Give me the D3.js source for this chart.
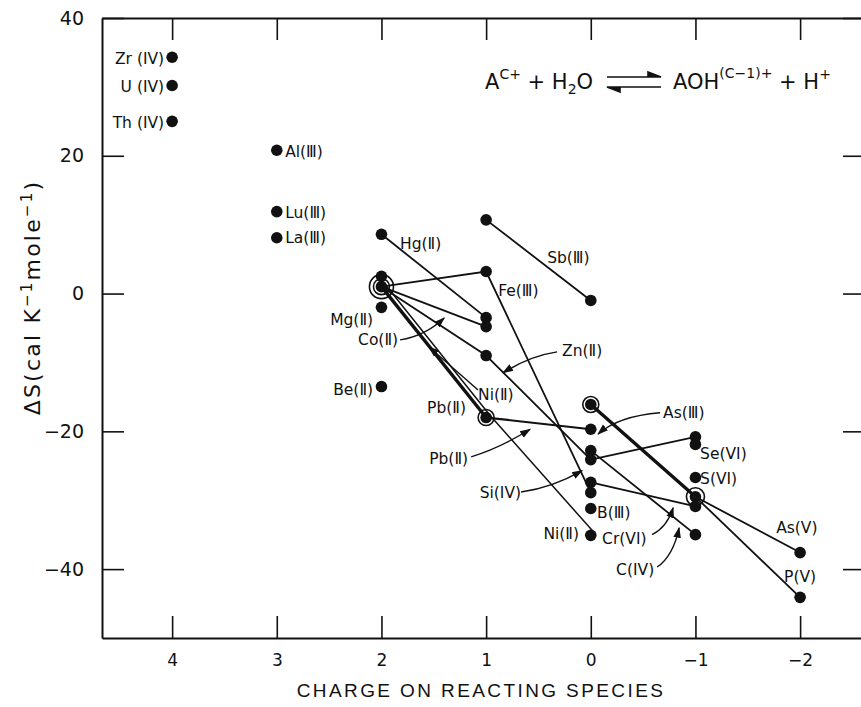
<!DOCTYPE html>
<html>
<head>
<meta charset="utf-8">
<script src="https://cdn.jsdelivr.net/npm/d3@7"></script>
<style>
  body { margin: 0; background: #fff; }
  text { font-family: "DejaVu Sans", sans-serif; fill: #111; }
  .axis path, .axis line { stroke: #111; }
  .axis path { stroke-width: 2; }
  .axis line { stroke-width: 1.6; }
</style>
</head>
<body>
<script>
// x = charge on reacting species, y = entropy of hydrolysis
var xTicks = [4, 3, 2, 1, 0, -1, -2];
var yTicks = [-40, -20, 0, 20, 40];

// lone points [charge, dS]
var dots = [
  [4, 34.3], [4, 30.2], [4, 25.0],
  [3, 20.8], [3, 11.9], [3, 8.1],
  [2, 8.6], [2, 2.5], [2, 1.0], [2, -2.0], [2, -13.5],
  [1, 10.7], [1, 3.2], [1, -3.5], [1, -4.8], [1, -9.0], [1, -18.0],
  [0, -1.0], [0, -16.1], [0, -19.7], [0, -22.8], [0, -24.1], [0, -27.4], [0, -28.9], [0, -31.2], [0, -35.1],
  [-1, -20.8], [-1, -21.9], [-1, -26.7], [-1, -29.5], [-1, -30.9], [-1, -35.0],
  [-2, -37.6], [-2, -44.1]
];

// circled (overlapping) points
var rings = [[2, 1.0, 12], [2, 1.0, 8], [1, -18.0, 8], [0, -16.1, 8], [-1, -29.5, 9]];

// connected hydrolysis steps
var hg = [[2, 8.6], [1, -3.5]];
var sb = [[1, 10.7], [0, -1.0]];
var fe = [[2, 1.0], [1, 3.2], [0, -28.9]];
var co = [[2, 1.0], [1, -4.8]];
var zn = [[2, 1.0], [1, -9.0], [0, -24.1]];
var pb = [[2, 1.0], [1, -18.0], [0, -19.7]];
var ni = [[2, 1.0], [1, -18.0], [0, -35.1]];
var as3 = [[0, -16.1], [-1, -29.5]];
var se = [[0, -24.1], [-1, -20.8]];
var c4 = [[0, -22.8], [-1, -35.0]];
var cr = [[0, -27.4], [-1, -30.9]];
var as5 = [[-1, -29.5], [-2, -37.6]];
var p5 = [[-1, -29.5], [-2, -44.1]];

// labels [text, charge, dS, anchor]
var labels = [
  ["Zr (IV)", 4.076, 34.1, "end"], ["U (IV)", 4.076, 30.1, "end"], ["Th (IV)", 4.076, 24.9, "end"],
  ["Al(\u2162)", 2.92, 20.7, "start"], ["Lu(\u2162)", 2.92, 11.8, "start"], ["La(\u2162)", 2.92, 8.1, "start"],
  ["Hg(\u2161)", 1.822, 7.3, "start"], ["Sb(\u2162)", 0.417, 5.3, "start"], ["Fe(\u2162)", 0.885, 0.5, "start"],
  ["Mg(\u2161)", 2.08, -3.8, "end"], ["Co(\u2161)", 1.841, -6.7, "end"], ["Zn(\u2161)", 0.274, -8.2, "start"],
  ["Be(\u2161)", 2.08, -13.9, "end"], ["Ni(\u2161)", 1.077, -14.7, "start"], ["Pb(\u2161)", 1.192, -16.5, "end"],
  ["Pb(\u2161)", 1.172, -24.0, "end"], ["As(\u2162)", -0.691, -17.2, "start"], ["Se(VI)", -1.044, -23.2, "start"],
  ["S(VI)", -1.044, -26.9, "start"], ["B(\u2162)", -0.06, -31.7, "start"], ["Ni(\u2161)", 0.112, -34.8, "end"],
  ["Cr(VI)", -0.108, -35.6, "start"], ["C(IV)", -0.242, -40.0, "start"], ["Si(IV)", 0.666, -28.8, "end"],
  ["As(V)", -1.771, -33.9, "start"], ["P(V)", -1.847, -41.0, "start"]
];

// leader arrows [start, control, end]
var leaders = [
  [[1.822, -6.72], [1.583, -6.15], [1.401, -3.54]],
  [[1.077, -14.0], [1.31, -10.9], [1.545, -7.75]],
  [[0.322, -8.47], [0.58, -9.06], [0.838, -11.5]],
  [[1.143, -23.7], [0.866, -22.4], [0.58, -19.7]],
  [[-0.662, -17.3], [-0.261, -17.8], [-0.07, -20.4]],
  [[0.666, -28.8], [0.37, -28.2], [0.083, -25.7]],
  [[-0.586, -35.0], [-0.729, -33.9], [-0.787, -31.1]],
  [[-0.634, -39.7], [-0.787, -38.1], [-0.844, -34.0]]
];

var width = 861, height = 707;
var margin = { top: 18, right: -4, bottom: 69, left: 102 };

var svg = d3.select("body").append("svg")
  .attr("width", width)
  .attr("height", height);

var x = d3.scaleLinear()
  .domain([4.67, -2.62])
  .range([margin.left, width - margin.right]);

var y = d3.scaleLinear()
  .domain([-50, 40])
  .range([height - margin.bottom, margin.top]);

svg.append("defs").append("marker")
  .attr("id", "head")
  .attr("viewBox", "0 0 10 10")
  .attr("refX", 9).attr("refY", 5)
  .attr("markerWidth", 11).attr("markerHeight", 11)
  .attr("markerUnits", "userSpaceOnUse")
  .attr("orient", "auto")
  .append("path")
  .attr("d", "M0,1.5 L10,5 L0,8.5 Z")
  .attr("fill", "#111");

// frame with inward ticks
svg.append("g").attr("class", "axis")
  .attr("transform", "translate(0," + y(-50) + ")")
  .call(d3.axisBottom(x).tickValues(xTicks).tickSize(-22).tickSizeOuter(0).tickPadding(16)
    .tickFormat(d3.format("d")))
  .selectAll("text").style("font-size", "17px");

svg.append("g").attr("class", "axis")
  .attr("transform", "translate(0," + y(40) + ")")
  .call(d3.axisTop(x).tickValues(xTicks).tickSize(-22).tickSizeOuter(0).tickFormat(""));

svg.append("g").attr("class", "axis")
  .attr("transform", "translate(" + x(4.67) + ",0)")
  .call(d3.axisLeft(y).tickValues(yTicks).tickSize(-22).tickSizeOuter(0).tickPadding(18))
  .selectAll("text").style("font-size", "19px");

svg.append("g").attr("class", "axis")
  .attr("transform", "translate(" + x(-2.62) + ",0)")
  .call(d3.axisRight(y).tickValues(yTicks).tickSize(-22).tickSizeOuter(0).tickFormat(""));

svg.selectAll(".axis text").attr("fill", "#111").style("font-family", "DejaVu Sans");

svg.append("text")
  .attr("x", 481).attr("y", 697)
  .attr("text-anchor", "middle")
  .style("font-family", "Liberation Sans")
  .style("font-size", "19px")
  .style("letter-spacing", "2.4px")
  .text("CHARGE ON REACTING SPECIES");

var yl = svg.append("text")
  .attr("transform", "translate(40," + (y(0) + 4) + ") rotate(-90)")
  .attr("text-anchor", "middle")
  .style("font-size", "22px")
  .style("letter-spacing", "2.2px");
yl.append("tspan").text("\u0394S(cal K");
yl.append("tspan").attr("dy", -8).style("font-size", "15px").text("\u22121");
yl.append("tspan").attr("dy", 8).text("mole");
yl.append("tspan").attr("dy", -8).style("font-size", "15px").text("\u22121");
yl.append("tspan").attr("dy", 8).text(")");

// lines
var line = d3.line().x(function (d) { return x(d[0]); }).y(function (d) { return y(d[1]); });

var thin = [hg, sb, fe, co, zn, se, c4, cr, as5, p5];
svg.selectAll(".thin").data(thin).enter().append("path")
  .attr("class", "thin")
  .attr("d", line)
  .attr("fill", "none").attr("stroke", "#111").attr("stroke-width", 1.8);

svg.append("path").attr("d", line(ni))
  .attr("transform", "translate(4,-2)")
  .attr("fill", "none").attr("stroke", "#111").attr("stroke-width", 1.5);

svg.append("path").attr("d", line(pb.slice(0, 2)))
  .attr("fill", "none").attr("stroke", "#111").attr("stroke-width", 3.4);
svg.append("path").attr("d", line(pb.slice(1)))
  .attr("fill", "none").attr("stroke", "#111").attr("stroke-width", 2.2);
svg.append("path").attr("d", line(as3))
  .attr("fill", "none").attr("stroke", "#111").attr("stroke-width", 3.4);

// rings and dots
svg.selectAll(".ring").data(rings).enter().append("circle")
  .attr("class", "ring")
  .attr("cx", function (d) { return x(d[0]); })
  .attr("cy", function (d) { return y(d[1]); })
  .attr("r", function (d) { return d[2]; })
  .attr("fill", "none").attr("stroke", "#111").attr("stroke-width", 1.6);

svg.selectAll(".dot").data(dots).enter().append("circle")
  .attr("class", "dot")
  .attr("cx", function (d) { return x(d[0]); })
  .attr("cy", function (d) { return y(d[1]); })
  .attr("r", 5.8)
  .attr("fill", "#111");

// leader arrows
svg.selectAll(".leader").data(leaders).enter().append("path")
  .attr("class", "leader")
  .attr("d", function (d) {
    return "M" + x(d[0][0]) + "," + y(d[0][1]) +
      " Q" + x(d[1][0]) + "," + y(d[1][1]) + " " + x(d[2][0]) + "," + y(d[2][1]);
  })
  .attr("fill", "none").attr("stroke", "#111").attr("stroke-width", 1.4)
  .attr("marker-end", "url(#head)");

// labels
svg.selectAll(".lab").data(labels).enter().append("text")
  .attr("class", "lab")
  .attr("x", function (d) { return x(d[1]); })
  .attr("y", function (d) { return y(d[2]); })
  .attr("dy", "0.36em")
  .attr("text-anchor", function (d) { return d[3]; })
  .style("font-size", "15.5px")
  .text(function (d) { return d[0]; });

// reaction
var eq = svg.append("text").attr("x", 485).attr("y", 89).style("font-size", "21px");
eq.append("tspan").text("A");
eq.append("tspan").attr("dy", -10).style("font-size", "14px").text("C+");
eq.append("tspan").attr("dy", 10).text(" + H");
eq.append("tspan").attr("dy", 5).style("font-size", "14px").text("2");
eq.append("tspan").attr("dy", -5).text("O");

var eq2 = svg.append("text").attr("x", 673).attr("y", 89).style("font-size", "21px");
eq2.append("tspan").text("AOH");
eq2.append("tspan").attr("dy", -11).style("font-size", "14px").text("(C\u22121)+");
eq2.append("tspan").attr("dy", 11).text("  + H");
eq2.append("tspan").attr("dy", -10).style("font-size", "14px").text("+");

svg.append("path").attr("d", "M607,77 L648,77 M648,72 L661,77 L648,77 Z")
  .attr("stroke", "#111").attr("stroke-width", 1.6).attr("fill", "#111");
svg.append("path").attr("d", "M661,87 L620,87 M620,92 L607,87 L620,87 Z")
  .attr("stroke", "#111").attr("stroke-width", 1.6).attr("fill", "#111");
</script>
</body>
</html>
